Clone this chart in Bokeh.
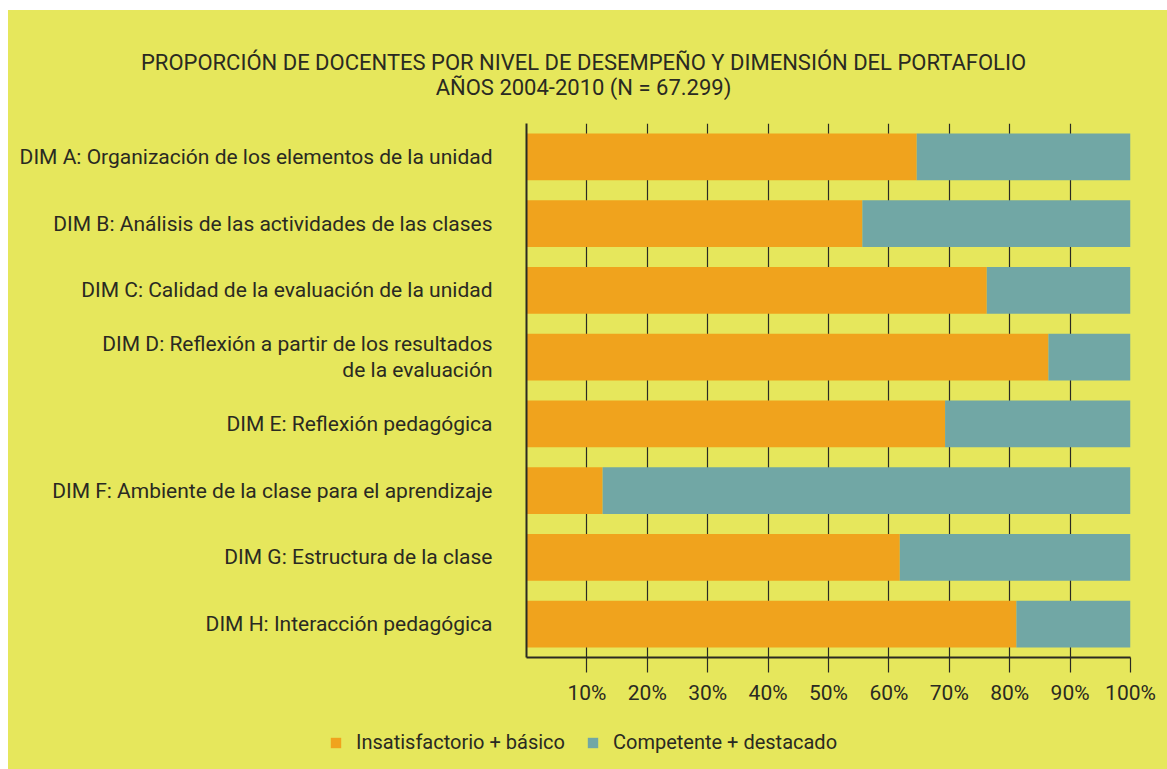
from bokeh.plotting import figure
from bokeh.models import (Legend, LegendItem, FixedTicker, FactorRange, Range1d, Spacer, ColumnDataSource)
from bokeh.layouts import column, row
from bokeh.core.properties import value
from bokeh.embed import file_html
from bokeh.resources import INLINE

title_lines = ["PROPORCIÓN DE DOCENTES POR NIVEL DE DESEMPEÑO Y DIMENSIÓN DEL PORTAFOLIO",
               "AÑOS 2004-2010 (N = 67.299)"]
dimensions = [
    "DIM A: Organización de los elementos de la unidad",
    "DIM B: Análisis de las actividades de las clases",
    "DIM C: Calidad de la evaluación de la unidad",
    "DIM D: Reflexión a partir de los resultados\nde la evaluación",
    "DIM E: Reflexión pedagógica",
    "DIM F: Ambiente de la clase para el aprendizaje",
    "DIM G: Estructura de la clase",
    "DIM H: Interacción pedagógica",
]
insat_basico = [64.6, 55.6, 76.2, 86.4, 69.3, 12.6, 61.8, 81.1]
compet_destacado = [35.4, 44.4, 23.8, 13.6, 30.7, 87.4, 38.2, 18.9]
series_names = ["Insatisfactorio + básico", "Competente + destacado"]
x_ticks = [10, 20, 30, 40, 50, 60, 70, 80, 90, 100]
x_tick_labels = {t: f"{t}%" for t in x_ticks}

YELLOW = "#e6e75c"
ORANGE = "#f0a31d"
TEAL = "#71a7a5"
INK = "#2a2a22"
FONT = "Roboto"
COLORS = [ORANGE, TEAL]
SERIES_COLS = ["insat", "comp"]

FIG_W = 1159
TITLE_H = 105
MAIN_H = 602
LEG_H = 759 - TITLE_H - MAIN_H


def strip(h):
    f = figure(width=FIG_W, height=h, output_backend="svg", toolbar_location=None,
               x_range=Range1d(0, FIG_W), y_range=Range1d(h, 0),
               x_axis_type=None, y_axis_type=None, min_border=0)
    f.frame_align = False
    f.background_fill_color = YELLOW
    f.border_fill_color = YELLOW
    f.outline_line_color = None
    f.grid.visible = False
    return f


# ---- title strip ----
tf = strip(TITLE_H)
tsrc = ColumnDataSource(dict(x=[575, 575], y=[52, 77], t=title_lines))
tf.text(x="x", y="y", text="t", source=tsrc, text_align="center", text_baseline="middle",
        text_font=value(FONT), text_font_size="22px", text_color=INK)

# ---- main chart ----
p = figure(width=FIG_W, height=MAIN_H, output_backend="svg", toolbar_location=None,
           y_range=FactorRange(*reversed(dimensions), range_padding=0),
           x_range=(0, 100),
           frame_width=604, frame_height=534,
           min_border_left=518, min_border_right=37,
           min_border_top=8, min_border_bottom=MAIN_H - 8 - 534)
p.frame_align = False
p.background_fill_color = YELLOW
p.border_fill_color = YELLOW
p.outline_line_color = None

data = ColumnDataSource(dict(dim=dimensions, insat=insat_basico, comp=compet_destacado))
r = p.hbar_stack(SERIES_COLS, y="dim", height=0.7, source=data,
                 color=COLORS, line_color=None)

p.ygrid.grid_line_color = None
p.xgrid.ticker = FixedTicker(ticks=x_ticks)
p.xgrid.grid_line_color = INK
p.xgrid.grid_line_width = 1.2

xa = p.xaxis[0]
xa.ticker = FixedTicker(ticks=x_ticks)
xa.major_label_overrides = x_tick_labels
xa.major_tick_out = 15
xa.major_tick_in = 0
xa.minor_tick_out = 0
xa.minor_tick_in = 0
xa.axis_line_width = 2
xa.axis_line_color = INK
xa.major_tick_line_color = INK
xa.major_tick_line_width = 1.2
xa.major_label_text_font = FONT
xa.major_label_text_font_size = "21px"
xa.major_label_text_color = INK
xa.major_label_standoff = 8

ya = p.yaxis[0]
ya.major_tick_out = 0
ya.major_tick_in = 0
ya.axis_line_width = 2
ya.axis_line_color = INK
ya.major_label_text_font = FONT
ya.major_label_text_font_size = "21px"
ya.major_label_text_color = INK
ya.major_label_text_line_height = 1.1
ya.major_label_standoff = 34

# ---- legend strip: hidden proxy renderers share the series data, only the legend swatch shows ----
lf = strip(LEG_H)
proxies = [lf.hbar(y=col, right=col, height=1, source=data, color=c, line_color=None, visible=False)
           for col, c in zip(SERIES_COLS, COLORS)]
legend = Legend(items=[LegendItem(label=n, renderers=[pr]) for n, pr in zip(series_names, proxies)],
                location=(321, LEG_H - 13 - 24), orientation="horizontal",
                background_fill_alpha=0, border_line_color=None,
                inactive_fill_alpha=0,
                padding=0, margin=0, spacing=21, label_standoff=14,
                glyph_width=13, glyph_height=13, label_height=24,
                label_text_font=FONT, label_text_font_size="20px",
                label_text_color=INK)
lf.add_layout(legend)

inner = column(tf, p, lf, spacing=0, styles={"background-color": YELLOW})
layout = column(Spacer(height=10),
                row(Spacer(width=8), inner, spacing=0),
                spacing=0)

open("out.html", "w").write(file_html(layout, INLINE))
